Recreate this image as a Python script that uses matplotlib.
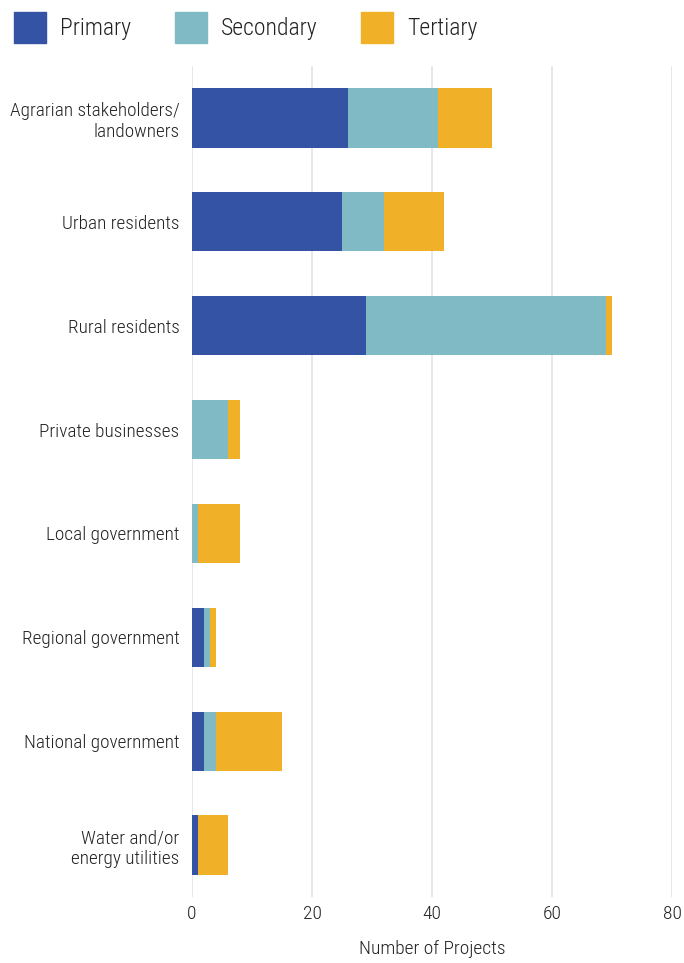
import numpy as np
import matplotlib.pyplot as plt
from matplotlib.patches import Patch

plt.rcParams['font.family'] = ['Roboto Condensed', 'Liberation Sans Narrow', 'DejaVu Sans']
plt.rcParams['font.weight'] = 'light'
plt.rcParams['axes.labelweight'] = 'light'

categories = ["Agrarian stakeholders/\nlandowners", "Urban residents", "Rural residents",
              "Private businesses", "Local government", "Regional government",
              "National government", "Water and/or\nenergy utilities"]
primary = [26, 25, 29, 0, 0, 2, 2, 1]
secondary = [15, 7, 40, 6, 1, 1, 2, 0]
tertiary = [9, 10, 1, 2, 7, 1, 11, 5]
series_names = ["Primary", "Secondary", "Tertiary"]
colors = ["#3553a5", "#80bbc5", "#f0b128"]

fig = plt.figure(figsize=(6.84, 9.63), dpi=100)
ax = fig.add_axes([192/684, 1 - 897/963, (672-192)/684, (897-66)/963])

y = np.arange(len(categories))
h = 0.57
left = np.zeros(len(categories))
for vals, c in zip([primary, secondary, tertiary], colors):
    ax.barh(y, vals, h, left=left, color=c, zorder=3)
    left += np.array(vals)

ax.set_ylim(len(categories) - 0.5, -0.5)
ax.set_xlim(0, 80)
ax.set_xticks([0, 20, 40, 60, 80])
ax.set_yticks(y)
ax.set_yticklabels(categories, fontsize=13.9, color="#222222", linespacing=1.2)
ax.tick_params(axis='x', labelsize=14, colors="#222222", length=0, pad=6)
ax.tick_params(axis='y', length=0, pad=9)
ax.grid(axis='x', color="#e3e3e3", linewidth=1.2, zorder=0)
for s in ax.spines.values():
    s.set_visible(False)
ax.set_xlabel("Number of Projects", fontsize=14, color="#222222", labelpad=12,
              fontweight='light')

handles = [Patch(color=c, label=n) for n, c in zip(series_names, colors)]
fig.legend(handles=handles, loc='upper left', bbox_to_anchor=(0.007, 0.997), ncol=3,
           frameon=False, fontsize=17, handlelength=1.35, handleheight=1.6,
           handletextpad=0.6, columnspacing=1.85, borderaxespad=0.0,
           labelcolor="#222222")

plt.savefig("out.png", dpi=100)
